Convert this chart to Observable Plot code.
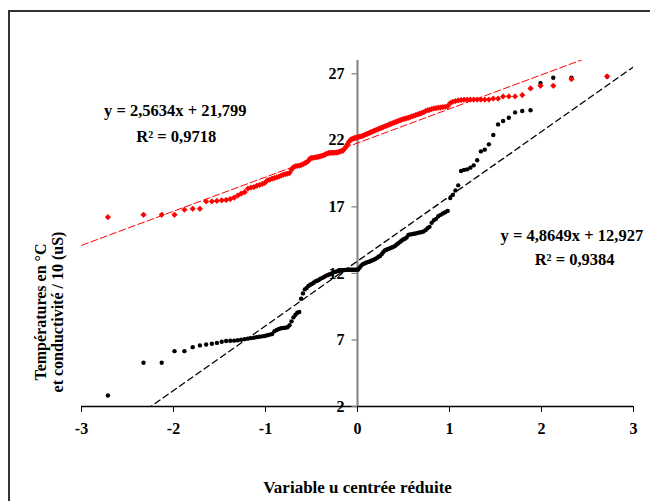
<!DOCTYPE html>
<html><head><meta charset="utf-8">
<script src="https://cdn.jsdelivr.net/npm/d3@7"></script>
<script src="https://cdn.jsdelivr.net/npm/@observablehq/plot@0.6"></script>
<style>
body{margin:0;background:#fff;}
#chart{position:absolute;left:0;top:0;}
#frame{position:absolute;left:8px;top:10px;width:700px;height:600px;border-left:2px solid #333;border-top:2px solid #333;pointer-events:none;}
</style></head><body>
<div id="chart"></div><div id="frame"></div>
<script>
// Normal scores (variable u centrée réduite)
const u = [
-2.713,-2.326,-2.128,-1.989,-1.881,-1.791,-1.713,-1.645,-1.583,-1.528,
-1.476,-1.428,-1.383,-1.341,-1.301,-1.263,-1.227,-1.192,-1.158,-1.126,
-1.095,-1.065,-1.036,-1.008,-0.980,-0.954,-0.928,-0.903,-0.878,-0.854,
-0.830,-0.806,-0.783,-0.761,-0.739,-0.717,-0.696,-0.674,-0.654,-0.633,
-0.613,-0.593,-0.573,-0.553,-0.534,-0.515,-0.496,-0.477,-0.459,-0.440,
-0.422,-0.404,-0.385,-0.367,-0.349,-0.332,-0.314,-0.297,-0.279,-0.262,
-0.245,-0.228,-0.210,-0.193,-0.176,-0.159,-0.143,-0.126,-0.109,-0.092,
-0.075,-0.059,-0.042,-0.025,-0.008,
0.008,0.025,0.042,0.059,0.075,0.092,0.109,0.126,0.143,0.159,
0.176,0.193,0.210,0.228,0.245,0.262,0.279,0.297,0.314,0.332,
0.349,0.367,0.385,0.404,0.422,0.440,0.459,0.477,0.496,0.515,
0.534,0.553,0.573,0.593,0.613,0.633,0.654,0.674,0.696,0.717,
0.739,0.761,0.783,0.806,0.830,0.854,0.878,0.903,0.928,0.954,
0.980,1.008,1.036,1.065,1.095,1.126,1.158,1.192,1.227,1.263,
1.301,1.341,1.383,1.428,1.476,1.528,1.583,1.645,1.713,1.791,
1.881,1.989,2.128,2.326,2.713];

// Températures (°C), sorted
const temperature = [
16.23,16.41,16.41,16.41,16.79,16.86,16.86,17.41,17.41,17.45,
17.49,17.52,17.59,17.69,17.86,18.0,18.1,18.37,18.45,18.49,
18.59,18.65,18.72,18.8,18.99,19.05,19.12,19.17,19.22,19.28,
19.35,19.42,19.46,19.5,19.54,19.8,19.99,20.05,20.08,20.1,
20.15,20.2,20.28,20.35,20.45,20.65,20.68,20.7,20.72,20.74,
20.77,20.8,20.84,20.87,20.95,21.0,21.05,21.06,21.07,21.07,
21.08,21.08,21.1,21.15,21.2,21.22,21.35,21.5,21.7,21.9,
22.05,22.1,22.15,22.2,22.22,
22.25,22.28,22.3,22.35,22.4,22.45,22.5,22.55,22.6,22.65,
22.7,22.75,22.8,22.85,22.9,22.95,23.0,23.05,23.1,23.15,
23.2,23.25,23.3,23.35,23.4,23.45,23.5,23.55,23.6,23.62,
23.66,23.7,23.75,23.8,23.85,23.9,23.95,24.0,24.05,24.1,
24.2,24.25,24.3,24.35,24.4,24.42,24.45,24.47,24.5,24.52,
24.56,24.8,24.9,24.95,25.0,25.03,25.05,25.06,25.06,25.06,
25.06,25.06,25.06,25.06,25.14,25.14,25.3,25.3,25.3,25.4,
25.9,26.1,26.1,26.6,26.8];

// Conductivité / 10 (uS), sorted
const conductivity = [
2.83,5.29,5.29,6.16,6.16,6.46,6.59,6.66,6.72,6.78,
6.86,6.92,6.94,6.95,6.98,7.02,7.06,7.1,7.14,7.17,
7.21,7.24,7.27,7.3,7.35,7.4,7.45,7.65,7.75,7.82,
7.88,7.9,7.92,7.96,8.1,8.4,8.7,8.9,9.05,9.1,
10.1,10.5,10.8,10.9,11.05,11.15,11.2,11.3,11.4,11.45,
11.5,11.6,11.65,11.72,11.8,11.85,11.9,11.95,12.0,12.08,
12.12,12.15,12.18,12.2,12.23,12.25,12.26,12.27,12.28,12.28,
12.28,12.28,12.28,12.28,12.28,
12.3,12.45,12.6,12.7,12.75,12.8,12.85,12.88,12.93,12.98,
13.03,13.08,13.15,13.25,13.3,13.45,13.6,13.73,13.78,13.83,
13.88,13.93,13.98,14.05,14.15,14.25,14.35,14.45,14.55,14.6,
14.7,14.9,14.93,14.95,14.98,15.0,15.05,15.08,15.1,15.15,
15.25,15.4,15.5,15.8,16.0,16.1,16.3,16.4,16.5,16.6,
16.7,17.66,17.9,18.24,18.62,19.7,19.78,19.82,19.95,20.12,
20.5,21.17,21.3,21.7,22.4,23.2,23.45,23.7,24.1,24.2,
24.26,26.3,26.7,26.7,26.8];

// Trend lines (Excel linear fits)
const fitNames = ["temperature", "conductivity"];
const slopes = [2.5634, 4.8649];
const intercepts = [21.799, 12.927];
const equations = ["y = 2,5634x + 21,799", "y = 4,8649x + 12,927"];
const r2Labels = ["R² = 0,9718", "R² = 0,9384"];
const eqAnchorX = [-1.98, 2.33];
const eqAnchorY = [24.2, 14.8];
const r2AnchorX = [-1.97, 2.36];
const r2AnchorY = [22.25, 13.0];

const xTicks = [-3, -2, -1, 0, 1, 2, 3];
const yTicks = [2, 7, 12, 17, 22, 27];
const xDomain = [-3, 3];
const yDomain = [2, 28];

const tempData = u.map((x, i) => ({u: x, v: temperature[i]}));
const condData = u.map((x, i) => ({u: x, v: conductivity[i]}));
const fitData = slopes.map((s, k) => xDomain.map(x => ({k: fitNames[k], x, y: s * x + intercepts[k]})));
const eqData = equations.map((t, k) => ({t, x: eqAnchorX[k], y: eqAnchorY[k]}));
const r2Data = r2Labels.map((t, k) => ({t, x: r2AnchorX[k], y: r2AnchorY[k]}));

const FONT = "Liberation Serif, Times New Roman, serif";

const chart = Plot.plot({
  width: 650, height: 501,
  marginLeft: 81, marginRight: 17, marginTop: 60, marginBottom: 95,
  x: {domain: xDomain},
  y: {domain: yDomain},
  style: {fontFamily: FONT, fontWeight: "bold", fontSize: "15px", background: "transparent", color: "#000"},
  marks: [
    Plot.ruleY([2], {stroke: "#000", strokeWidth: 1.5}),
    Plot.axisX({ticks: xTicks, tickSize: 6, tickPadding: 10, tickFormat: d => String(d), label: null, fontSize: 16, fontWeight: "bold", stroke: "#000"}),
    Plot.axisY({ticks: [], label: null, tickSize: 0}),
    Plot.ruleX([0], {y1: yDomain[0], y2: yDomain[1], stroke: "#808080", strokeWidth: 2}),
    Plot.ruleY(yTicks, {y: d => d, x1: -0.06, x2: 0, stroke: "#808080", strokeWidth: 1.2}),
    Plot.text(yTicks, {x: 0, y: d => d, text: d => String(d), textAnchor: "end", dx: -13, fontSize: 16, fontWeight: "bold"}),
    Plot.line(fitData[1], {x: "x", y: "y", stroke: "#000", strokeWidth: 1.3, strokeDasharray: "6,4", clip: true}),
    Plot.line(fitData[0], {x: "x", y: "y", stroke: "#ff0000", strokeWidth: 1, strokeDasharray: "7,3", clip: true}),
    Plot.dot(condData, {x: "u", y: "v", r: 2.2, fill: "#000", stroke: null}),
    Plot.dot(tempData, {x: "u", y: "v", r: 2.4, symbol: "diamond2", fill: "#ff0000", stroke: "#ff0000", strokeWidth: 0.8}),
    Plot.text(eqData, {x: "x", y: "y", text: "t", fontSize: 16.5, fontWeight: "bold"}),
    Plot.text(r2Data, {x: "x", y: "y", text: "t", fontSize: 16.5, fontWeight: "bold"}),
    Plot.text(["Températures en °C\net conductivité / 10 (uS)"], {frameAnchor: "left", y: 9.1, rotate: -90, textAnchor: "middle", lineAnchor: "middle", dx: -32, fontSize: 16, fontWeight: "bold", lineHeight: 1.05}),
    Plot.text(["Variable u centrée réduite"], {x: 0, frameAnchor: "bottom", dy: 86, fontSize: 17, fontWeight: "bold"})
  ]
});
document.getElementById("chart").appendChild(chart);
</script>
</body></html>
